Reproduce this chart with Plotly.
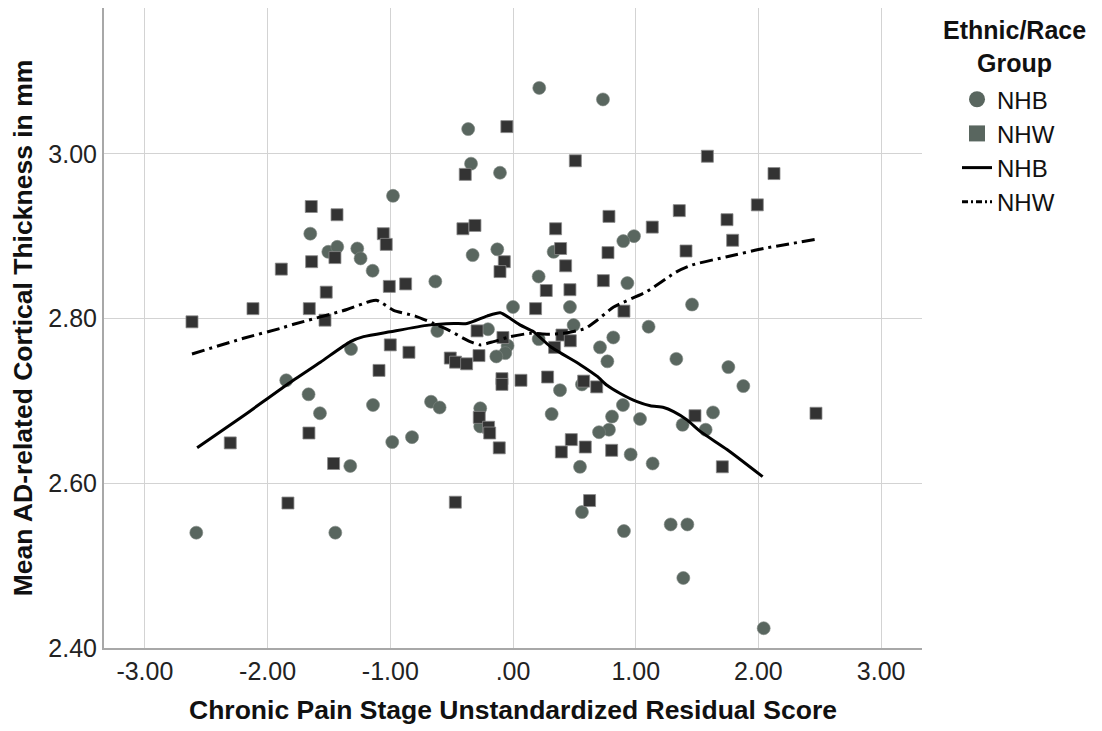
import plotly.graph_objects as go

# NHB (circles)
nhb_x = [-0.365, -0.342, -0.106, -0.978, -1.652, -1.505, -1.432, -1.269, -1.242, -1.144,
         -0.633, -0.329, -0.128, 0.0, 0.214, 0.733, 0.986, 0.899, 0.331, 0.209,
         0.932, 0.464, 1.459, 0.494, 1.105, 0.817, 0.209, 0.709, 0.769, 1.331,
         1.755, 1.877, 0.562, 0.383, 0.315, 0.896, 0.807, 1.035, 0.782, 0.701,
         0.959, 1.138, 0.546, 1.382, 1.630, 1.570, 0.562, 0.904, 1.285, 1.421,
         1.388, 2.043, -1.320, -0.617, -0.204, -0.044, -0.063, -0.136, -1.848, -1.666,
         -1.141, -1.573, -0.668, -0.598, -0.267, -0.267, -0.823, -0.984, -1.326, -2.581,
         -1.448]
nhb_y = [3.030, 2.988, 2.977, 2.949, 2.903, 2.881, 2.887, 2.885, 2.873, 2.858,
         2.845, 2.877, 2.884, 2.814, 3.080, 3.066, 2.900, 2.894, 2.881, 2.851,
         2.843, 2.814, 2.817, 2.792, 2.790, 2.777, 2.775, 2.765, 2.748, 2.751,
         2.741, 2.718, 2.720, 2.713, 2.684, 2.695, 2.681, 2.678, 2.665, 2.662,
         2.635, 2.624, 2.620, 2.671, 2.686, 2.665, 2.565, 2.542, 2.550, 2.550,
         2.485, 2.424, 2.763, 2.785, 2.787, 2.767, 2.758, 2.754, 2.725, 2.708,
         2.695, 2.685, 2.699, 2.692, 2.691, 2.669, 2.656, 2.650, 2.621, 2.540,
         2.540]

# NHW (squares)
nhw_x = [-0.05, -0.389, -1.644, -1.434, -1.057, -1.033, -1.451, -1.641, -1.888, -1.522,
         -1.008, -0.875, -0.408, -0.310, -0.071, -0.106, -2.119, -1.660, -1.532, -2.616,
         0.508, 1.584, 2.127, 1.991, 1.355, 1.744, 0.782, 1.135, 1.790, 0.347,
         0.388, 0.774, 1.410, 0.429, 0.736, 0.271, 0.464, 0.184, 0.904, 0.399,
         0.467, 0.339, 0.065, 0.282, 0.576, 0.682, 0.475, 0.394, 0.589, 0.804,
         1.483, 1.706, 2.469, 0.624, -1.0, -0.848, -0.293, -0.082, -0.277, -0.511,
         -0.468, -0.378, -1.092, -0.090, -0.090, -0.275, -0.199, -0.190, -0.112, -1.663,
         -2.304, -1.462, -1.834, -0.470]
nhw_y = [3.033, 2.975, 2.936, 2.926, 2.903, 2.890, 2.874, 2.869, 2.860, 2.832,
         2.839, 2.842, 2.909, 2.913, 2.869, 2.857, 2.812, 2.812, 2.798, 2.796,
         2.9915, 2.997, 2.976, 2.938, 2.931, 2.920, 2.924, 2.911, 2.895, 2.909,
         2.885, 2.880, 2.882, 2.864, 2.846, 2.834, 2.835, 2.812, 2.809, 2.780,
         2.773, 2.765, 2.725, 2.729, 2.724, 2.717, 2.653, 2.638, 2.644, 2.640,
         2.682, 2.620, 2.685, 2.579, 2.768, 2.759, 2.785, 2.777, 2.755, 2.752,
         2.747, 2.745, 2.737, 2.727, 2.720, 2.680, 2.668, 2.661, 2.643, 2.661,
         2.649, 2.624, 2.576, 2.577]

# Loess fit lines
fit_nhb_x = [-2.574, -2.196, -1.84, -1.57, -1.325, -1.218, -1.0, -0.688, -0.484, -0.375,
             -0.212, -0.104, -0.022, 0.06, 0.168, 0.304, 0.548, 0.684, 0.766, 0.874,
             1.011, 1.119, 1.228, 1.309, 1.418, 1.526, 1.744, 2.034]
fit_nhb_y = [2.643, 2.682, 2.720, 2.747, 2.772, 2.778, 2.784, 2.792, 2.794, 2.794,
             2.803, 2.807, 2.800, 2.792, 2.784, 2.766, 2.744, 2.730, 2.719, 2.709,
             2.699, 2.694, 2.692, 2.687, 2.677, 2.663, 2.641, 2.608]

fit_nhw_x = [-2.616, -2.196, -1.897, -1.788, -1.353, -1.163, -1.108, -1.068, -0.973, -0.796,
             -0.647, -0.525, -0.403, -0.334, -0.267, -0.158, -0.022, 0.141, 0.277, 0.412,
             0.589, 0.685, 0.82, 1.092, 1.336, 1.459, 1.744, 2.043, 2.464]
fit_nhw_y = [2.757, 2.776, 2.788, 2.793, 2.811, 2.821, 2.822, 2.819, 2.810, 2.803,
             2.794, 2.786, 2.776, 2.771, 2.768, 2.772, 2.778, 2.782, 2.781, 2.782,
             2.788, 2.798, 2.814, 2.833, 2.857, 2.865, 2.875, 2.885, 2.896]

x_ticks = [-3, -2, -1, 0, 1, 2, 3]
x_tick_labels = ["-3.00", "-2.00", "-1.00", ".00", "1.00", "2.00", "3.00"]
y_ticks = [2.4, 2.6, 2.8, 3.0]
y_tick_labels = ["2.40", "2.60", "2.80", "3.00"]

FONT = "Liberation Sans, Arial, sans-serif"
CIRCLE_C = "#59665f"
SQUARE_C = "#333333"

fig = go.Figure()
fig.add_trace(go.Scatter(x=nhb_x, y=nhb_y, mode="markers", showlegend=False,
                         marker=dict(symbol="circle", size=13, color=CIRCLE_C,
                                     line=dict(color="#7d8781", width=0.6))))
fig.add_trace(go.Scatter(x=nhw_x, y=nhw_y, mode="markers", showlegend=False,
                         marker=dict(symbol="square", size=12, color=SQUARE_C,
                                     line=dict(color="#8a8a8a", width=0.8))))
fig.add_trace(go.Scatter(x=fit_nhb_x, y=fit_nhb_y, mode="lines", showlegend=False,
                         line=dict(color="black", width=3, shape="spline", smoothing=0.6)))
fig.add_trace(go.Scatter(x=fit_nhw_x, y=fit_nhw_y, mode="lines", showlegend=False,
                         line=dict(color="black", width=3, dash="13px,5px,3px,5px",
                                   shape="spline", smoothing=0.6)))

# legend-only entries
fig.add_trace(go.Scatter(x=[None], y=[None], mode="markers", name="NHB",
                         marker=dict(symbol="circle", size=16, color=CIRCLE_C)))
fig.add_trace(go.Scatter(x=[None], y=[None], mode="markers", name="NHW",
                         marker=dict(symbol="square", size=16, color=CIRCLE_C)))
fig.add_trace(go.Scatter(x=[None], y=[None], mode="lines", name="NHB",
                         line=dict(color="black", width=3)))
fig.add_trace(go.Scatter(x=[None], y=[None], mode="lines", name="NHW",
                         line=dict(color="black", width=3, dash="6px,3px,2px,3px")))

# the page adds an 8px body margin, so the figure is 8px smaller in each direction
fig.update_layout(
    width=1094, height=723,
    margin=dict(l=96, r=180, t=0, b=83),
    paper_bgcolor="white", plot_bgcolor="white",
    font=dict(family=FONT, color="#222222"),
    showlegend=True,
    legend=dict(x=1.0428, y=0.892, xanchor="left", yanchor="top",
                font=dict(size=24, family=FONT, color="#111111"),
                bgcolor="rgba(0,0,0,0)", tracegroupgap=0, itemwidth=30),
    annotations=[
        dict(text="<b>Ethnic/Race<br>Group</b>", xref="paper", yref="paper",
             x=1.1125, y=0.9398, xanchor="center", yanchor="middle", showarrow=False,
             align="center", borderpad=0,
             font=dict(size=25, family=FONT, color="#111111")),
    ],
)
fig.update_xaxes(range=[-3.333, 3.333], tickvals=x_ticks, ticktext=x_tick_labels,
                 showgrid=True, gridcolor="#d3d3d3", gridwidth=1.3, zeroline=False,
                 showline=True, linecolor="#a8a8a8", linewidth=2, ticks="",
                 tickfont=dict(size=25, family=FONT, color="#222222"),
                 title=dict(text="<b>Chronic Pain Stage Unstandardized Residual Score</b>",
                            font=dict(size=26.5, family=FONT, color="#111111"), standoff=16))
fig.update_yaxes(range=[2.40, 3.177], tickvals=y_ticks, ticktext=y_tick_labels,
                 showgrid=True, gridcolor="#d3d3d3", gridwidth=1.3, zeroline=False,
                 showline=True, linecolor="#a8a8a8", linewidth=2, ticks="",
                 tickfont=dict(size=25, family=FONT, color="#222222"),
                 title=dict(text="<b>Mean AD-related Cortical Thickness in mm</b>",
                            font=dict(size=26.5, family=FONT, color="#111111"), standoff=12))

fig.write_html("out.html")
